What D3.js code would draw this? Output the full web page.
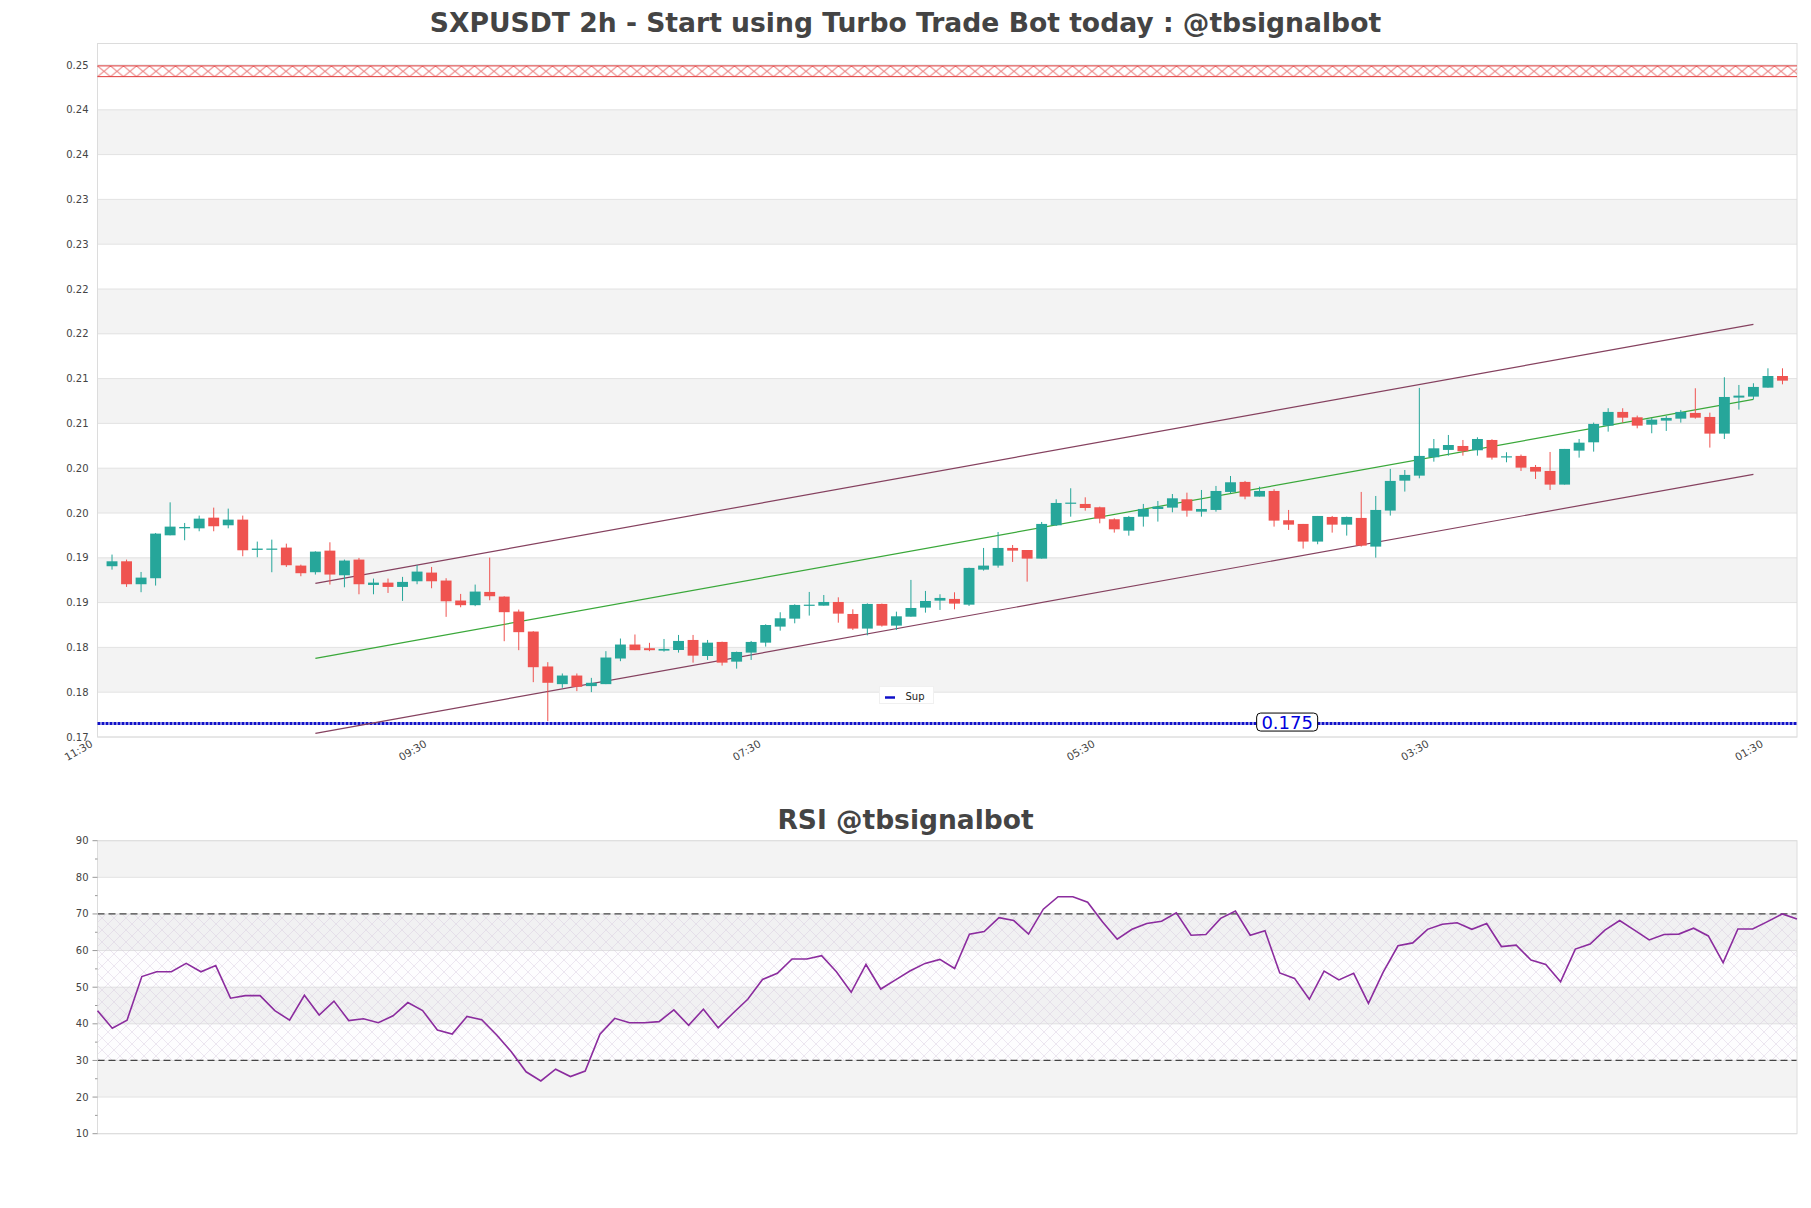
<!DOCTYPE html>
<html>
<head>
<meta charset="utf-8">
<title>SXPUSDT 2h</title>
<script src="https://cdn.jsdelivr.net/npm/d3@7"></script>
<style>
body { margin: 0; background: #fff; }
text { font-family: "DejaVu Sans", sans-serif; }
</style>
</head>
<body>
<div id="chart"></div>
<script>
// 2h candles, oldest first
var opens = [0.19256,0.19311,0.19055,0.19122,0.19601,0.19679,0.19679,0.19798,0.19713,0.19776,
  0.19438,0.19445,0.19464,0.19263,0.19189,0.19430,0.19155,0.19330,0.19047,0.19073,
  0.19025,0.19088,0.19185,0.19096,0.18873,0.18821,0.18969,0.18917,0.18750,0.18527,
  0.18137,0.17940,0.18036,0.17918,0.17940,0.18226,0.18382,0.18341,0.18314,0.18321,
  0.18433,0.18254,0.18411,0.18191,0.18292,0.18403,0.18582,0.18671,0.18816,0.18816,
  0.18857,0.18723,0.18560,0.18835,0.18593,0.18693,0.18794,0.18872,0.18891,0.18827,
  0.19218,0.19263,0.19460,0.19437,0.19341,0.19713,0.19955,0.19951,0.19914,0.19780,
  0.19653,0.19809,0.19895,0.19910,0.20003,0.19865,0.19884,0.20085,0.20197,0.20033,
  0.20096,0.19769,0.19728,0.19531,0.19806,0.19720,0.19795,0.19475,0.19877,0.20211,
  0.20267,0.20472,0.20554,0.20598,0.20550,0.20665,0.20476,0.20487,0.20364,0.20319,
  0.20167,0.20546,0.20639,0.20825,0.20978,0.20918,0.20836,0.20881,0.20903,0.20967,
  0.20922,0.20736,0.21138,0.21149,0.21249,0.21379];
var highs = [0.19386,0.19330,0.19192,0.19627,0.19969,0.19739,0.19821,0.19910,0.19899,0.19821,
  0.19531,0.19553,0.19508,0.19274,0.19423,0.19523,0.19330,0.19349,0.19118,0.19118,
  0.19137,0.19270,0.19248,0.19122,0.18947,0.19051,0.19352,0.18921,0.18772,0.18531,
  0.18185,0.18059,0.18059,0.18010,0.18308,0.18449,0.18494,0.18401,0.18444,0.18489,
  0.18489,0.18433,0.18414,0.18303,0.18422,0.18608,0.18742,0.18831,0.18969,0.18935,
  0.18909,0.18775,0.18842,0.18839,0.18749,0.19103,0.18980,0.18943,0.18965,0.19240,
  0.19460,0.19638,0.19493,0.19437,0.19750,0.20003,0.20126,0.20025,0.19921,0.19791,
  0.19817,0.19951,0.19984,0.20062,0.20077,0.20107,0.20152,0.20263,0.20208,0.20144,
  0.20115,0.19884,0.19728,0.19817,0.19817,0.19810,0.20085,0.20040,0.20342,0.20330,
  0.21246,0.20676,0.20721,0.20665,0.20695,0.20673,0.20528,0.20502,0.20386,0.20531,
  0.20565,0.20676,0.20859,0.21019,0.21019,0.20937,0.20911,0.20933,0.21000,0.21242,
  0.20970,0.21365,0.21279,0.21298,0.21465,0.21465];
var lows = [0.19218,0.19025,0.18966,0.19040,0.19601,0.19546,0.19646,0.19646,0.19679,0.19367,
  0.19356,0.19189,0.19248,0.19144,0.19163,0.19051,0.19021,0.18943,0.18943,0.18958,
  0.18869,0.19055,0.19010,0.18691,0.18798,0.18810,0.18876,0.18419,0.18319,0.17962,
  0.17527,0.17899,0.17862,0.17851,0.17940,0.18196,0.18319,0.18308,0.18303,0.18292,
  0.18180,0.18210,0.18147,0.18113,0.18210,0.18359,0.18537,0.18619,0.18705,0.18816,
  0.18626,0.18545,0.18485,0.18582,0.18545,0.18693,0.18738,0.18768,0.18775,0.18812,
  0.19207,0.19240,0.19304,0.19084,0.19341,0.19705,0.19809,0.19876,0.19735,0.19631,
  0.19597,0.19698,0.19754,0.19858,0.19809,0.19809,0.19865,0.20070,0.20003,0.20033,
  0.19698,0.19661,0.19453,0.19501,0.19631,0.19598,0.19475,0.19352,0.19821,0.20089,
  0.20237,0.20423,0.20490,0.20490,0.20490,0.20446,0.20416,0.20319,0.20230,0.20107,
  0.20167,0.20468,0.20535,0.20758,0.20859,0.20795,0.20740,0.20766,0.20859,0.20903,
  0.20580,0.20676,0.21004,0.21119,0.21249,0.21286];
var closes = [0.19311,0.19055,0.19129,0.19620,0.19698,0.19694,0.19787,0.19702,0.19776,0.19434,
  0.19453,0.19453,0.19267,0.19178,0.19419,0.19163,0.19319,0.19055,0.19073,0.19025,
  0.19081,0.19196,0.19088,0.18865,0.18821,0.18973,0.18921,0.18743,0.18520,0.18129,
  0.17955,0.18036,0.17910,0.17955,0.18237,0.18382,0.18319,0.18319,0.18333,0.18422,
  0.18258,0.18403,0.18180,0.18299,0.18411,0.18600,0.18675,0.18824,0.18827,0.18857,
  0.18727,0.18560,0.18835,0.18593,0.18697,0.18790,0.18868,0.18902,0.18839,0.19237,
  0.19263,0.19460,0.19430,0.19341,0.19728,0.19962,0.19966,0.19906,0.19787,0.19668,
  0.19806,0.19895,0.19921,0.20014,0.19876,0.19895,0.20096,0.20193,0.20033,0.20096,
  0.19765,0.19720,0.19531,0.19817,0.19720,0.19806,0.19486,0.19884,0.20208,0.20275,
  0.20487,0.20572,0.20609,0.20539,0.20676,0.20468,0.20483,0.20356,0.20312,0.20167,
  0.20565,0.20635,0.20844,0.20978,0.20914,0.20825,0.20892,0.20911,0.20978,0.20914,
  0.20736,0.21145,0.21160,0.21257,0.21379,0.21327];

var rsiValues = [43.6,38.8,41.0,52.9,54.2,54.2,56.5,54.2,55.9,47.0,
  47.7,47.7,43.6,41.0,47.8,42.4,46.2,40.9,41.4,40.3,
  42.2,45.8,43.6,38.3,37.2,42.0,41.1,37.0,32.4,26.9,
  24.4,27.6,25.6,27.1,37.2,41.5,40.3,40.3,40.6,43.8,
  39.6,44.0,38.9,42.9,46.7,52.1,53.8,57.7,57.7,58.6,
  54.2,48.6,56.2,49.5,52.0,54.5,56.5,57.6,55.1,64.5,
  65.2,69.0,68.2,64.5,71.3,74.7,74.7,73.2,67.9,63.1,
  65.8,67.4,68.0,70.3,64.2,64.4,68.8,70.8,64.2,65.4,
  53.9,52.4,46.7,54.4,52.0,53.8,45.6,54.1,61.3,62.1,
  65.8,67.2,67.6,65.8,67.4,61.1,61.5,57.4,56.2,51.5,
  60.4,61.8,65.6,68.2,65.6,62.9,64.4,64.5,66.1,64.0,
  56.7,65.9,65.9,67.9,70.0,68.6];

// price axis ticks (labels rounded to 2 decimals like the source)
var priceTicks = [0.1735,0.1785,0.1835,0.1885,0.1935,0.1985,0.2035,0.2085,
  0.2135,0.2185,0.2235,0.2285,0.2335,0.2385,0.2435,0.2485];
var timeTickIdx = [0, 23, 46, 69, 92, 115];
var timeTickLabels = ["11:30", "09:30", "07:30", "05:30", "03:30", "01:30"];

// channel (bar index, value at start / end)
var chanIdx = [15, 114];
var chanUpper = [0.19065, 0.21956];
var chanMid = [0.18228, 0.21119];
var chanLower = [0.17391, 0.20282];

var resistanceBand = [0.2472, 0.2484];
var supportLevel = 0.175;
var supportLabel = "0.175";

var rsiTicks = [10, 20, 30, 40, 50, 60, 70, 80, 90];
var rsiMinorTicks = [15, 25, 35, 45, 55, 65, 75, 85];
var rsiLevels = [30, 70];

var titleMain = "SXPUSDT 2h - Start using Turbo Trade Bot today : @tbsignalbot";
var titleRsi = "RSI @tbsignalbot";

var W = 1811, H = 1208;
var GREEN = "#26a69a", RED = "#ef5350";

var svg = d3.select("#chart").append("svg")
    .attr("width", W)
    .attr("height", H);

var defs = svg.append("defs");

function price_chart() {
    var pm = {left: 97.5, top: 43.5, right: 1797, bottom: 737};
    var x = d3.scaleLinear().domain([0, opens.length + 1]).range([pm.left, pm.right]);
    var y = d3.scaleLinear().domain([0.1735, 0.2509]).range([pm.bottom, pm.top]);
    var g = svg.append("g");

    // alternating bands
    for (var k = 0; k < priceTicks.length - 1; k++) {
        if (k % 2 == 1) {
            g.append("rect")
                .attr("x", pm.left)
                .attr("y", y(priceTicks[k + 1]))
                .attr("width", pm.right - pm.left)
                .attr("height", y(priceTicks[k]) - y(priceTicks[k + 1]))
                .attr("fill", "#f3f3f3");
        }
    }
    g.selectAll(".pgrid")
        .data(priceTicks)
        .enter().append("line")
        .attr("x1", pm.left).attr("x2", pm.right)
        .attr("y1", function(d) { return y(d); })
        .attr("y2", function(d) { return y(d); })
        .attr("stroke", "#e2e2e2");

    g.append("rect")
        .attr("x", pm.left).attr("y", pm.top)
        .attr("width", pm.right - pm.left).attr("height", pm.bottom - pm.top)
        .attr("fill", "none").attr("stroke", "#dcdcdc");

    // y labels
    var fmt = d3.format(".2f");
    g.selectAll(".plab")
        .data(priceTicks)
        .enter().append("text")
        .attr("x", pm.left - 9)
        .attr("y", function(d) { return y(d); })
        .attr("dy", "0.35em")
        .attr("text-anchor", "end")
        .attr("font-size", "10px")
        .attr("fill", "#444")
        .text(function(d) { return fmt(d); });

    // x labels
    g.selectAll(".tlab")
        .data(timeTickIdx)
        .enter().append("text")
        .attr("transform", function(d) { return "translate(" + (x(d) - 4) + "," + (pm.bottom + 9) + ") rotate(-30)"; })
        .attr("text-anchor", "end")
        .attr("font-size", "10.5px")
        .attr("fill", "#444")
        .text(function(d, i) { return timeTickLabels[i]; });

    // resistance band, red x hatch
    var r0 = y(resistanceBand[1]), r1 = y(resistanceBand[0]);
    var ph = r1 - r0;
    var pat = defs.append("pattern")
        .attr("id", "resHatch")
        .attr("patternUnits", "userSpaceOnUse")
        .attr("x", pm.left).attr("y", r0)
        .attr("width", 13).attr("height", ph);
    pat.append("path")
        .attr("d", "M0,0L13," + ph + "M13,0L0," + ph)
        .attr("stroke", "#e03a3a").attr("stroke-width", 0.9).attr("fill", "none");
    g.append("rect")
        .attr("x", pm.left).attr("y", r0)
        .attr("width", pm.right - pm.left).attr("height", ph)
        .attr("fill", "url(#resHatch)");
    g.selectAll(".resedge")
        .data(resistanceBand)
        .enter().append("line")
        .attr("x1", pm.left).attr("x2", pm.right)
        .attr("y1", function(d) { return y(d); })
        .attr("y2", function(d) { return y(d); })
        .attr("stroke", "#e03a3a").attr("stroke-width", 1);

    // support line
    g.append("line")
        .attr("x1", pm.left).attr("x2", pm.right)
        .attr("y1", y(supportLevel)).attr("y2", y(supportLevel))
        .attr("stroke", "#1010c8").attr("stroke-width", 3)
        .attr("stroke-dasharray", "3,1");

    // channel
    var line = d3.line()
        .x(function(d) { return x(d[0]); })
        .y(function(d) { return y(d[1]); });
    [[chanUpper, "#85415f"], [chanLower, "#85415f"], [chanMid, "#3aa83a"]].forEach(function(c) {
        g.append("path")
            .attr("d", line([[chanIdx[0], c[0][0]], [chanIdx[1], c[0][1]]]))
            .attr("stroke", c[1]).attr("stroke-width", 1.2).attr("fill", "none");
    });

    // candles
    var bw = (x(1) - x(0)) * 0.75;
    var candles = g.selectAll(".candle")
        .data(opens)
        .enter().append("g");
    candles.append("line")
        .attr("x1", function(d, i) { return x(i + 1); })
        .attr("x2", function(d, i) { return x(i + 1); })
        .attr("y1", function(d, i) { return y(highs[i]); })
        .attr("y2", function(d, i) { return y(lows[i]); })
        .attr("stroke", function(d, i) { return closes[i] >= d ? GREEN : RED; })
        .attr("stroke-width", 1);
    candles.append("rect")
        .attr("x", function(d, i) { return x(i + 1) - bw / 2; })
        .attr("y", function(d, i) { return y(Math.max(d, closes[i])); })
        .attr("width", bw)
        .attr("height", function(d, i) { return Math.max(1.2, Math.abs(y(d) - y(closes[i]))); })
        .attr("fill", function(d, i) { return closes[i] >= d ? GREEN : RED; });

    // support label box
    var lx = pm.left + (pm.right - pm.left) * 0.7;
    g.append("rect")
        .attr("x", lx - 30.5).attr("y", y(supportLevel) - 10.5)
        .attr("width", 61).attr("height", 18)
        .attr("rx", 4)
        .attr("fill", "#fff").attr("stroke", "#000").attr("stroke-width", 1);
    g.append("text")
        .attr("x", lx).attr("y", y(supportLevel) + 5)
        .attr("text-anchor", "middle")
        .attr("font-size", "18px")
        .attr("fill", "#0000dd")
        .text(supportLabel);

    // legend
    var lg = g.append("g").attr("transform", "translate(879.5,686.5)");
    lg.append("rect").attr("width", 54).attr("height", 17)
        .attr("fill", "#fff").attr("stroke", "#f0f0f0");
    lg.append("line").attr("x1", 5.5).attr("x2", 15.5).attr("y1", 11).attr("y2", 11)
        .attr("stroke", "#1010c8").attr("stroke-width", 2.5);
    lg.append("text").attr("x", 26).attr("y", 13)
        .attr("font-size", "10px").attr("fill", "#222").text("Sup");

    svg.append("text")
        .attr("x", W / 2).attr("y", 32)
        .attr("text-anchor", "middle")
        .attr("font-size", "26.6px")
        .attr("font-weight", "bold")
        .attr("fill", "#444")
        .text(titleMain);
}

function rsi_chart() {
    var rm = {left: 97.5, top: 840.7, right: 1797, bottom: 1133.7};
    var x = d3.scaleLinear().domain([0, rsiValues.length - 1]).range([rm.left, rm.right]);
    var y = d3.scaleLinear().domain([10, 90]).range([rm.bottom, rm.top]);
    var g = svg.append("g");

    for (var k = 0; k < rsiTicks.length - 1; k++) {
        if (k % 2 == 1) {
            g.append("rect")
                .attr("x", rm.left).attr("y", y(rsiTicks[k + 1]))
                .attr("width", rm.right - rm.left)
                .attr("height", y(rsiTicks[k]) - y(rsiTicks[k + 1]))
                .attr("fill", "#f3f3f3");
        }
    }
    g.selectAll(".rgrid")
        .data(rsiTicks)
        .enter().append("line")
        .attr("x1", rm.left).attr("x2", rm.right)
        .attr("y1", function(d) { return y(d); })
        .attr("y2", function(d) { return y(d); })
        .attr("stroke", "#e2e2e2");

    // hatched zone between the levels
    var pat = defs.append("pattern")
        .attr("id", "rsiHatch")
        .attr("patternUnits", "userSpaceOnUse")
        .attr("width", 12).attr("height", 12);
    pat.append("path")
        .attr("d", "M0,0L12,12M12,0L0,12")
        .attr("stroke", "#d4c6dc").attr("stroke-width", 0.6).attr("fill", "none");
    g.append("rect")
        .attr("x", rm.left).attr("y", y(rsiLevels[1]))
        .attr("width", rm.right - rm.left)
        .attr("height", y(rsiLevels[0]) - y(rsiLevels[1]))
        .attr("fill", "rgba(120,60,150,0.012)");
    g.append("rect")
        .attr("x", rm.left).attr("y", y(rsiLevels[1]))
        .attr("width", rm.right - rm.left)
        .attr("height", y(rsiLevels[0]) - y(rsiLevels[1]))
        .attr("fill", "url(#rsiHatch)")
        .attr("opacity", 0.7);

    g.selectAll(".lvl")
        .data(rsiLevels)
        .enter().append("line")
        .attr("x1", rm.left).attr("x2", rm.right)
        .attr("y1", function(d) { return y(d); })
        .attr("y2", function(d) { return y(d); })
        .attr("stroke", "#444").attr("stroke-width", 1.2)
        .attr("stroke-dasharray", "7,4");

    g.append("rect")
        .attr("x", rm.left).attr("y", rm.top)
        .attr("width", rm.right - rm.left).attr("height", rm.bottom - rm.top)
        .attr("fill", "none").attr("stroke", "#dcdcdc");

    // ticks + labels
    g.selectAll(".rtick")
        .data(rsiTicks)
        .enter().append("line")
        .attr("x1", rm.left - 5).attr("x2", rm.left)
        .attr("y1", function(d) { return y(d); })
        .attr("y2", function(d) { return y(d); })
        .attr("stroke", "#999");
    g.selectAll(".rmtick")
        .data(rsiMinorTicks)
        .enter().append("line")
        .attr("x1", rm.left - 2.5).attr("x2", rm.left)
        .attr("y1", function(d) { return y(d); })
        .attr("y2", function(d) { return y(d); })
        .attr("stroke", "#999");
    g.selectAll(".rlab")
        .data(rsiTicks)
        .enter().append("text")
        .attr("x", rm.left - 9)
        .attr("y", function(d) { return y(d); })
        .attr("dy", "0.35em")
        .attr("text-anchor", "end")
        .attr("font-size", "10px")
        .attr("fill", "#444")
        .text(function(d) { return d; });

    var line = d3.line()
        .x(function(d, i) { return x(i); })
        .y(function(d) { return y(d); });
    g.append("path")
        .attr("d", line(rsiValues))
        .attr("fill", "none")
        .attr("stroke", "#8b2c9e")
        .attr("stroke-width", 1.6);

    svg.append("text")
        .attr("x", W / 2).attr("y", 829)
        .attr("text-anchor", "middle")
        .attr("font-size", "26.5px")
        .attr("font-weight", "bold")
        .attr("fill", "#444")
        .text(titleRsi);
}

price_chart();
rsi_chart();
</script>
</body>
</html>
